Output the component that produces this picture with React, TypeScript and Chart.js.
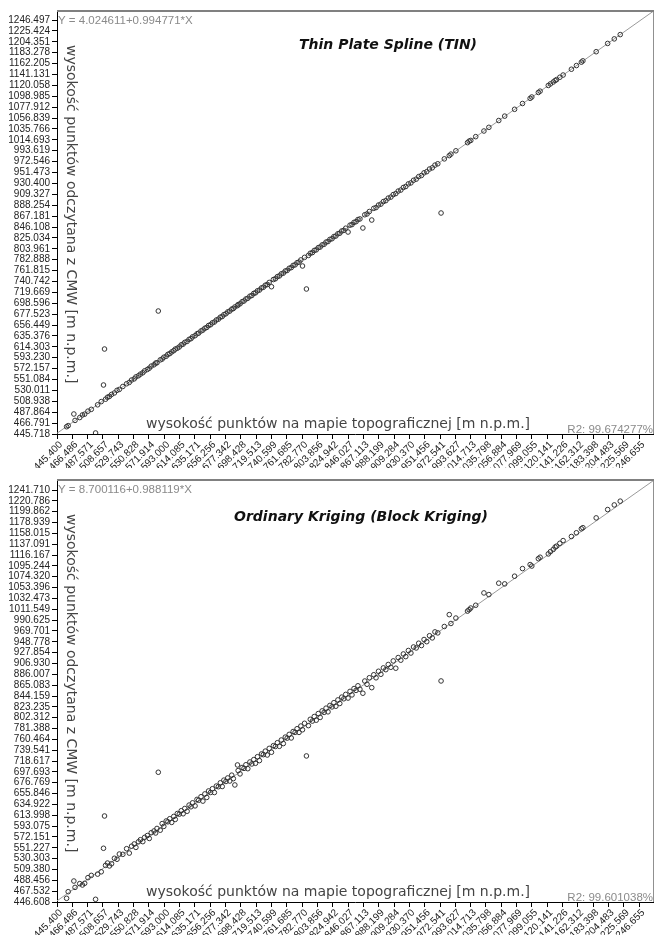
import React, { useEffect, useRef } from "react";
import { Chart, registerables } from "chart.js";

Chart.register(...registerables);

const mapHeights = [
  458.6, 460.8, 468.6, 470.2, 476.7, 480.4, 483.5, 488.0, 492.6, 498.5,
  501.3, 506.3, 509.4, 510.8, 512.2, 514.9, 517.6, 520.5, 524.4, 528.0,
  531.2, 536.0, 541.2, 544.9, 548.0, 551.7, 554.0, 557.5, 560.2, 563.5,
  566.0, 569.8, 572.4, 575.1, 578.9, 581.2, 583.0, 584.8, 587.5, 590.1,
  592.4, 595.7, 598.0, 600.6, 603.3, 606.1, 608.2, 611.0, 613.7, 616.4,
  619.0, 621.3, 624.5, 627.2, 629.8, 632.0, 635.4, 638.1, 640.3, 643.6,
  646.2, 648.9, 651.5, 654.0, 656.8, 659.3, 662.0, 664.7, 667.5, 670.2,
  672.8, 675.1, 677.9, 680.4, 683.2, 685.9, 688.1, 690.2, 693.8, 694.7,
  697.3, 700.1, 702.8, 705.4, 708.0, 710.9, 713.5, 716.2, 718.6, 721.3,
  724.0, 726.9, 729.4, 732.1, 734.8, 737.5, 740.6, 743.2, 746.0, 748.7,
  751.5, 754.1, 756.9, 759.6, 762.2, 765.0, 767.8, 770.4, 773.1, 775.8,
  778.5, 781.0, 783.3, 786.1, 788.7, 791.4, 794.0, 796.9, 799.5, 802.2,
  805.0, 807.6, 810.3, 813.1, 815.7, 818.4, 821.0, 823.9, 826.5, 829.2,
  832.0, 834.6, 837.3, 840.1, 842.8, 846.0, 848.7, 851.4, 854.2, 857.0,
  859.6, 862.3, 866.4, 869.0, 872.1, 875.3, 878.6, 881.4, 884.5, 887.9,
  891.2, 894.6, 898.0, 901.3, 904.9, 908.2, 911.7, 915.0, 918.6, 922.1,
  925.4, 929.0, 932.5, 936.1, 939.8, 943.2, 947.0, 950.6, 954.3, 958.1,
  961.9, 965.6, 969.5, 974.0, 978.5, 985.3, 987.6, 994.4, 1010.4, 1012.6,
  1014.9, 1021.7, 1033.0, 1039.8, 1053.4, 1061.6, 1075.2, 1086.1, 1096.6, 1098.9,
  1107.9, 1110.3, 1121.6, 1124.5, 1128.4, 1131.0, 1133.0, 1137.5, 1142.0, 1153.4,
  1160.3, 1167.1, 1169.2, 1187.5, 1203.3, 1212.4, 1220.6,
];

// y values: Thin Plate Spline (TIN)
const tinHeights = [
  459.8, 461.9, 484.4, 472.0, 477.5, 482.6, 484.1, 489.9, 493.4, 447.7,
  502.2, 508.4, 540.5, 610.1, 513.0, 516.8, 518.5, 522.3, 525.1, 530.2,
  532.0, 537.6, 542.9, 545.5, 550.1, 552.4, 556.2, 558.4, 561.5, 564.2,
  567.9, 570.6, 573.0, 577.0, 579.6, 582.9, 583.5, 683.6, 589.1, 590.6,
  594.2, 596.1, 599.8, 601.2, 604.5, 606.9, 610.0, 611.6, 614.1, 618.2,
  619.5, 623.0, 624.8, 628.8, 630.1, 633.7, 635.9, 639.6, 640.8, 645.0,
  646.7, 650.3, 651.8, 655.6, 657.1, 660.8, 662.3, 666.2, 667.8, 671.7,
  673.0, 676.6, 678.3, 681.9, 683.5, 687.3, 688.4, 691.5, 694.0, 696.1,
  697.5, 701.6, 703.0, 706.9, 708.2, 712.3, 713.6, 717.7, 718.8, 722.7,
  724.1, 728.3, 729.5, 733.5, 734.8, 738.9, 730.6, 744.5, 746.0, 750.1,
  751.5, 755.5, 756.9, 761.0, 762.1, 766.3, 767.6, 771.8, 772.9, 777.1,
  778.3, 782.4, 770.7, 787.4, 726.2, 791.1, 795.3, 796.6, 800.8, 801.9,
  806.2, 807.3, 811.5, 812.7, 816.9, 818.0, 822.2, 823.4, 827.6, 828.7,
  833.1, 834.1, 838.4, 839.6, 843.8, 836.4, 849.7, 850.8, 855.1, 856.4,
  860.5, 861.7, 844.2, 869.8, 871.4, 876.1, 859.6, 882.2, 883.7, 888.6,
  890.4, 895.3, 897.1, 902.0, 904.0, 908.8, 910.8, 915.6, 917.6, 922.6,
  924.4, 929.5, 931.4, 936.5, 938.7, 943.6, 945.8, 950.9, 953.1, 958.3,
  960.6, 965.8, 968.4, 873.2, 977.9, 984.2, 987.1, 993.5, 1009.3, 1012.2,
  1013.6, 1020.9, 1031.8, 1038.9, 1052.1, 1060.6, 1073.8, 1085.0, 1095.0, 1097.6,
  1106.3, 1108.9, 1119.9, 1122.9, 1126.6, 1129.5, 1131.2, 1135.8, 1140.1, 1151.3,
  1158.4, 1165.0, 1167.5, 1185.2, 1201.2, 1210.0, 1218.3,
];

// y values: Ordinary Kriging (Block Kriging)
const krigingHeights = [
  453.7, 466.5, 487.1, 474.8, 482.1, 479.4, 482.7, 493.6, 498.0, 451.8,
  500.4, 504.9, 550.3, 612.6, 517.3, 521.8, 516.2, 520.4, 531.0, 529.1,
  539.2, 538.6, 549.5, 541.0, 554.3, 558.6, 552.0, 562.8, 566.8, 563.1,
  571.4, 574.9, 569.2, 580.3, 583.7, 579.8, 588.6, 697.0, 585.2, 597.9,
  592.5, 603.0, 601.4, 607.3, 600.2, 611.7, 606.0, 617.4, 616.2, 622.8,
  616.9, 627.1, 621.7, 633.6, 630.4, 638.0, 632.1, 644.7, 642.9, 649.8,
  641.3, 655.2, 648.4, 660.9, 658.0, 665.2, 657.9, 670.4, 669.1, 676.6,
  669.5, 681.8, 679.2, 686.0, 680.1, 691.4, 684.7, 672.5, 711.1, 700.3,
  693.8, 706.2, 704.5, 711.5, 703.9, 716.8, 713.0, 721.4, 714.3, 727.0,
  719.5, 732.4, 731.0, 737.8, 730.3, 743.1, 735.6, 748.3, 746.8, 754.0,
  747.1, 759.2, 752.4, 764.8, 762.9, 770.1, 763.2, 775.6, 774.0, 781.0,
  773.9, 786.2, 779.0, 791.5, 728.5, 787.0, 799.2, 795.8, 804.6, 797.5,
  810.3, 802.8, 815.4, 812.6, 820.7, 813.6, 826.0, 823.1, 831.3, 824.4,
  836.6, 829.7, 842.0, 838.8, 847.3, 840.2, 853.1, 846.3, 858.6, 855.0,
  863.9, 857.2, 849.5, 873.1, 866.8, 879.4, 860.3, 885.2, 879.3, 891.9,
  886.1, 898.4, 895.0, 905.0, 899.6, 911.9, 897.8, 918.4, 913.3, 925.3,
  920.2, 932.0, 927.1, 938.8, 936.9, 946.0, 941.6, 953.2, 949.0, 960.5,
  956.3, 967.9, 966.0, 873.2, 978.3, 1001.2, 984.1, 994.6, 1008.0, 1010.7,
  1013.9, 1019.3, 1043.1, 1039.9, 1061.9, 1060.5, 1075.4, 1090.1, 1097.8, 1095.0,
  1109.2, 1112.0, 1118.4, 1122.7, 1127.0, 1131.6, 1133.4, 1138.9, 1144.1, 1152.0,
  1159.2, 1166.9, 1169.0, 1187.9, 1204.0, 1212.9, 1220.2,
];

const xTickLabels = [
  "445.400", "466.486", "487.571", "508.657", "529.743", "550.828", "571.914", "593.000",
  "614.085", "635.171", "656.256", "677.342", "698.428", "719.513", "740.599", "761.685",
  "782.770", "803.856", "824.942", "846.027", "867.113", "888.199", "909.284", "930.370",
  "951.456", "972.541", "993.627", "1014.713", "1035.798", "1056.884", "1077.969", "1099.055",
  "1120.141", "1141.226", "1162.312", "1183.398", "1204.483", "1225.569", "1246.655",
];

const tinYTickLabels = [
  "445.718", "466.791", "487.864", "508.938", "530.011", "551.084", "572.157", "593.230",
  "614.303", "635.376", "656.449", "677.523", "698.596", "719.669", "740.742", "761.815",
  "782.888", "803.961", "825.034", "846.108", "867.181", "888.254", "909.327", "930.400",
  "951.473", "972.546", "993.619", "1014.693", "1035.766", "1056.839", "1077.912", "1098.985",
  "1120.058", "1141.131", "1162.205", "1183.278", "1204.351", "1225.424", "1246.497",
];

const krigingYTickLabels = [
  "446.608", "467.532", "488.456", "509.380", "530.303", "551.227", "572.151", "593.075",
  "613.998", "634.922", "655.846", "676.769", "697.693", "718.617", "739.541", "760.464",
  "781.388", "802.312", "823.235", "844.159", "865.083", "886.007", "906.930", "927.854",
  "948.778", "969.701", "990.625", "1011.549", "1032.473", "1053.396", "1074.320", "1095.244",
  "1116.167", "1137.091", "1158.015", "1178.939", "1199.862", "1220.786", "1241.710",
];

const tinFit = [4.024611, 0.994771];
const krigingFit = [8.700116, 0.988119];
const tinR2 = "R2: 99.674277%";
const krigingR2 = "R2: 99.601038%";
const tinEquation = "Y = 4.024611+0.994771*X";
const krigingEquation = "Y = 8.700116+0.988119*X";
const xAxisTitle = "wysokość punktów na mapie topograficznej [m n.p.m.]";
const yAxisTitle = "wysokość punktów odczytana z CMW [m n.p.m.]";

const X_MIN = 445.4;
const X_MAX = 1265.7;

const overlayPlugin = {
  id: "overlay",
  afterDraw(chart: any, _args: any, o: any) {
    const ctx = chart.ctx as CanvasRenderingContext2D;
    const { left, right, top, bottom } = chart.chartArea;
    ctx.save();
    // frame
    ctx.strokeStyle = "#808080";
    ctx.lineWidth = 2;
    ctx.beginPath();
    ctx.moveTo(left, top - 1);
    ctx.lineTo(right + 1, top - 1);
    ctx.stroke();
    ctx.lineWidth = 1;
    ctx.strokeStyle = "#909090";
    ctx.beginPath();
    ctx.moveTo(right + 0.5, top);
    ctx.lineTo(right + 0.5, bottom);
    ctx.stroke();

    // equation
    ctx.fillStyle = "#8a8a8a";
    ctx.font = '11.5px "Liberation Sans", Arial, sans-serif';
    ctx.textAlign = "left";
    ctx.textBaseline = "alphabetic";
    ctx.fillText(o.equation, left + 1, top + 12);
    // R2
    ctx.textAlign = "right";
    ctx.fillText(o.r2, right, bottom - 1.5);

    // title
    ctx.fillStyle = "#111";
    ctx.font = 'italic bold 14px "DejaVu Sans", sans-serif';
    ctx.textAlign = "center";
    ctx.textBaseline = "middle";
    ctx.fillText(o.title, o.titleX, o.titleY);

    // axis titles
    ctx.fillStyle = "#444";
    ctx.font = '14px "DejaVu Sans", sans-serif';
    ctx.textAlign = "left";
    ctx.textBaseline = "alphabetic";
    ctx.fillText(xAxisTitle, 146, bottom - 6.5);

    ctx.translate(67, top + 33);
    ctx.rotate(Math.PI / 2);
    ctx.fillText(yAxisTitle, 0, 0);
    ctx.restore();
  },
};

type PlotProps = {
  height: number;
  topPad: number;
  ys: number[];
  yLabels: string[];
  yMax: number;
  fit: number[];
  equation: string;
  r2: string;
  title: string;
  titleX: number;
  titleY: number;
};

function Plot(p: PlotProps) {
  const ref = useRef<HTMLCanvasElement | null>(null);
  useEffect(() => {
    if (!ref.current) return;
    const points = mapHeights.map((x, i) => ({ x, y: p.ys[i] }));
    const [a, b] = p.fit;
    const fitLine = [
      { x: X_MIN, y: a + b * X_MIN },
      { x: X_MAX, y: a + b * X_MAX },
    ];
    const yVals = p.yLabels.map((l) => parseFloat(l));
    const xVals = xTickLabels.map((l) => parseFloat(l));
    const tickFont = { family: '"Liberation Sans", Arial, sans-serif', size: 10 };
    const chart = new Chart(ref.current, {
      type: "scatter",
      data: {
        datasets: [
          {
            data: points,
            pointRadius: 2.3,
            pointBorderWidth: 1,
            pointBorderColor: "#333",
            pointBackgroundColor: "rgba(0,0,0,0)",
            showLine: false,
            order: 0,
          } as any,
          {
            data: fitLine,
            showLine: true,
            borderColor: "#9a9a9a",
            borderWidth: 1,
            pointRadius: 0,
            order: 1,
          } as any,
        ],
      },
      options: {
        responsive: false,
        animation: false,
        devicePixelRatio: 1,
        layout: { padding: { top: p.topPad, right: 1, left: 0, bottom: 0 } },
        plugins: {
          legend: { display: false },
          tooltip: { enabled: false },
          overlay: {
            equation: p.equation,
            r2: p.r2,
            title: p.title,
            titleX: p.titleX,
            titleY: p.titleY,
          },
        } as any,
        scales: {
          x: {
            type: "linear",
            min: X_MIN,
            max: X_MAX,
            afterBuildTicks: (s: any) => {
              s.ticks = xVals.map((v) => ({ value: v }));
            },
            afterFit: (s: any) => {
              s.height = p.height - 434;
              s.paddingRight = 0;
              s.paddingLeft = 0;
            },
            ticks: {
              autoSkip: false,
              minRotation: 45,
              maxRotation: 45,
              padding: 0,
              labelOffset: 4,
              color: "#222",
              font: tickFont,
              callback: (_v: any, i: number) => xTickLabels[i],
            },
            grid: {
              display: true,
              drawOnChartArea: false,
              drawTicks: true,
              tickLength: 5,
              color: "#000",
            },
            border: { display: true, color: "#000", width: 1 },
          },
          y: {
            type: "linear",
            min: yVals[0],
            max: p.yMax,
            afterBuildTicks: (s: any) => {
              s.ticks = yVals.map((v) => ({ value: v }));
            },
            afterFit: (s: any) => {
              s.width = 57;
              s.paddingTop = 0;
              s.paddingBottom = 0;
            },
            ticks: {
              autoSkip: false,
              padding: 2,
              color: "#222",
              font: tickFont,
              callback: (_v: any, i: number) => p.yLabels[i],
            },
            grid: {
              display: true,
              drawOnChartArea: false,
              drawTicks: true,
              tickLength: 5,
              color: "#000",
            },
            border: { display: true, color: "#000", width: 1 },
          },
        },
      } as any,
      plugins: [overlayPlugin],
    });
    return () => chart.destroy();
  }, []);
  return (
    <canvas
      ref={ref}
      width={658}
      height={p.height}
      style={{ display: "block", width: 658, height: p.height }}
    />
  );
}

export default function App() {
  return (
    <div
      style={{
        position: "absolute",
        left: 0,
        top: 0,
        width: 658,
        height: 935,
        background: "#fff",
      }}
    >
      <Plot
        height={468}
        topPad={12}
        ys={tinHeights}
        yLabels={tinYTickLabels}
        yMax={1262}
        fit={tinFit}
        equation={tinEquation}
        r2={tinR2}
        title="Thin Plate Spline (TIN)"
        titleX={388}
        titleY={45}
      />
      <Plot
        height={467}
        topPad={13}
        ys={krigingHeights}
        yLabels={krigingYTickLabels}
        yMax={1259.1}
        fit={krigingFit}
        equation={krigingEquation}
        r2={krigingR2}
        title="Ordinary Kriging (Block Kriging)"
        titleX={361}
        titleY={49}
      />
    </div>
  );
}
